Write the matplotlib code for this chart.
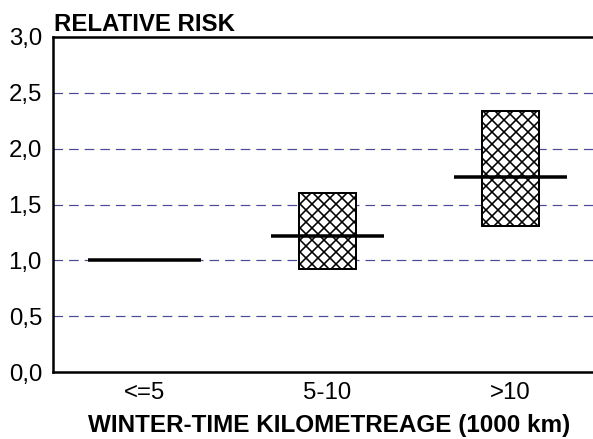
import numpy as np
import matplotlib.pyplot as plt
from matplotlib.patches import Rectangle

categories = ['<=5', '5-10', '>10']
rr = [1.0, 1.22, 1.75]
ci_low = [None, 0.92, 1.31]
ci_high = [None, 1.60, 2.34]
yticks = [0.0, 0.5, 1.0, 1.5, 2.0, 2.5, 3.0]

plt.rcParams['font.family'] = ['Liberation Sans', 'DejaVu Sans']
plt.rcParams['hatch.linewidth'] = 1.6

W, H = 593, 439
fig = plt.figure(figsize=(W / 72, H / 72), dpi=72)
ax = fig.add_axes([53 / W, 1 - 372 / H, 1 - 53 / W, (372 - 37) / H])

x = np.arange(len(categories))
for i in range(len(categories)):
    if ci_low[i] is not None:
        ax.add_patch(Rectangle((x[i] - 0.155, ci_low[i]), 0.31, ci_high[i] - ci_low[i],
                               facecolor='white', edgecolor='black', hatch='xx',
                               linewidth=2, zorder=3))
    ax.plot([x[i] - 0.31, x[i] + 0.31], [rr[i], rr[i]], color='black',
            linewidth=3.5, solid_capstyle='butt', zorder=4)

ax.set_xlim(-0.5, 2.45)
ax.set_ylim(0, 3)
ax.set_yticks(yticks)
ax.set_yticklabels([('%.1f' % v).replace('.', ',') for v in yticks])
ax.set_xticks(x)
ax.set_xticklabels(categories)
ax.tick_params(length=0, labelsize=24)
ax.tick_params(axis='y', pad=11)
ax.tick_params(axis='x', pad=10)

for v in yticks[1:-1]:
    ax.axhline(v, color='#4a4a96', linewidth=1.2, dashes=(8, 5), zorder=1)

ax.spines['right'].set_visible(False)
for s in ['left', 'top', 'bottom']:
    ax.spines[s].set_linewidth(2.5)

fig.text(329 / W, 1 - 432 / H, 'WINTER-TIME KILOMETREAGE (1000 km)', fontsize=24.2,
         fontweight='bold', ha='center', va='baseline')
fig.text(54 / W, 1 - 31 / H, 'RELATIVE RISK', fontsize=24, fontweight='bold',
         ha='left', va='baseline')

fig.savefig('out.png', dpi=72)
